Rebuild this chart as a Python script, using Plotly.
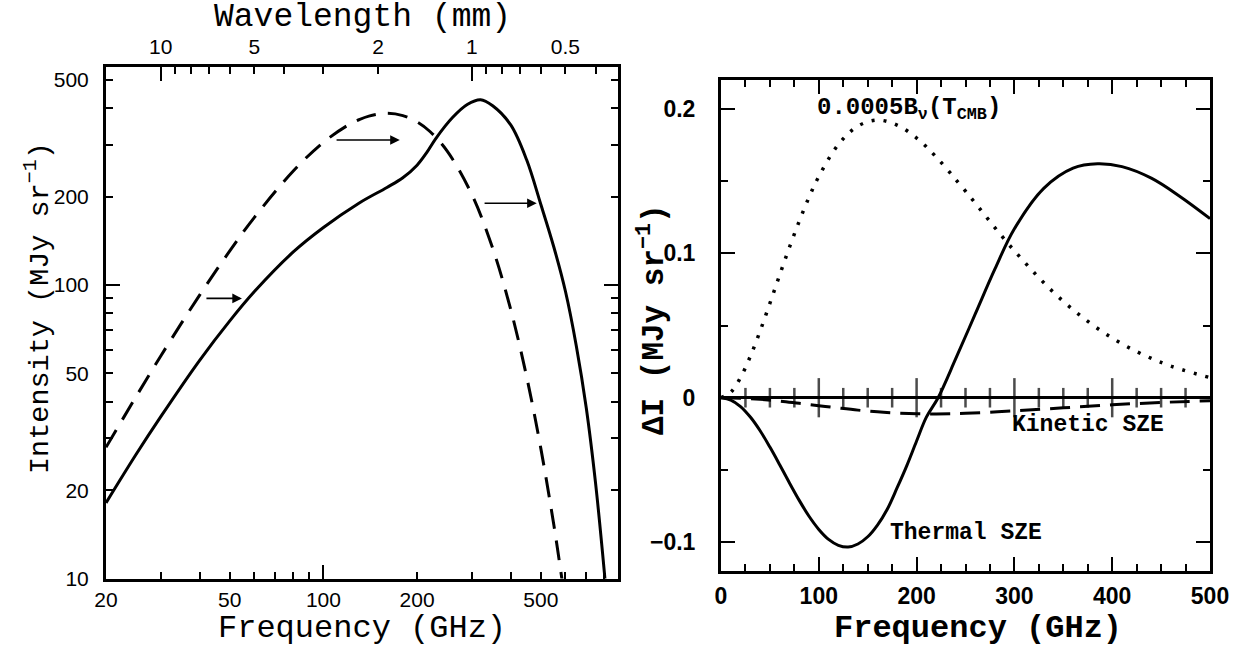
import math
import plotly.graph_objects as go

# ---------------- Left panel data ----------------
cmb_freq = [20, 25, 30, 40, 50, 60, 80, 100, 120, 130, 140, 160, 180, 200, 220,
            250, 300, 350, 400, 450, 500, 550, 575, 600]
cmb_int = [27.98, 41.7, 57.3, 92.4, 130.7, 170.0, 244.5, 306.4, 350.6, 365.6, 376.2,
           384.4, 377.6, 359.5, 333.4, 286.0, 203.3, 133.4, 82.5, 48.7, 27.7, 15.3,
           11.2, 8.2]

sz_freq = [20, 25, 30, 40, 50, 60, 80, 100, 130, 160, 180, 200, 215, 230, 260, 290, 320,
           350, 400, 450, 500, 550, 600, 650, 700, 750, 800, 850]
sz_int = [18.1, 26.5, 35.6, 55.4, 75.5, 95.0, 129.6, 157.0, 190.0, 215.0, 232.0, 256.0,
          283.0, 316.0, 372.0, 412.0, 428.0, 408.0, 351.0, 267.0, 188.0, 135.0, 95.0,
          62.0, 38.0, 21.0, 10.5, 5.0]

arrow_tail_freq = [41.6, 109.0, 326.0]
arrow_head_freq = [54.7, 176.0, 485.0]
arrow_int = [90.0, 312.0, 190.0]

freq_labels = [20, 50, 100, 200, 500]
freq_minor = [30, 40, 60, 70, 80, 90, 300, 400, 600, 700, 800]
freq_long = [100]
int_labels = [10, 20, 50, 100, 200, 500]
int_minor = [30, 40, 60, 70, 80, 90, 300, 400]
int_long = [100]
wl_labels = [10, 5, 2, 1, 0.5]
wl_text = ["10", "5", "2", "1", "0.5"]
wl_minor = [9, 8, 7, 6, 4, 3, 0.9, 0.8, 0.7, 0.6, 0.4]
wl_long = [10, 1]
C_MM_GHZ = 299.792458  # wavelength (mm) <-> frequency (GHz)

# ---------------- Right panel data ----------------
bcmb_freq = [0, 10, 20, 30, 40, 50, 60, 70, 80, 90, 100, 120, 140, 160, 180, 200, 220,
             250, 300, 350, 400, 450, 500]
bcmb_val = [0.0, 0.00383, 0.01399, 0.02865, 0.0462, 0.0654, 0.0850, 0.1042, 0.1222,
            0.1388, 0.1532, 0.1753, 0.1881, 0.1922, 0.1888, 0.1798, 0.1667, 0.1430,
            0.1017, 0.0667, 0.0413, 0.0244, 0.0139]

tsz_freq = [0, 10, 20, 30, 40, 50, 60, 70, 80, 90, 100, 110, 120, 130, 140, 150, 160,
            170, 180, 190, 200, 210, 222, 240, 260, 280, 300, 330, 360, 385, 410, 440,
            470, 500]
tsz_val = [0.0, -0.0016, -0.0061, -0.0134, -0.0229, -0.0342, -0.0464, -0.0590, -0.0711,
           -0.0821, -0.0912, -0.0981, -0.1022, -0.1034, -0.1013, -0.0963, -0.0882,
           -0.0772, -0.0625, -0.0470, -0.0300, -0.0135, 0.0, 0.027, 0.058, 0.089,
           0.117, 0.145, 0.159, 0.162, 0.160, 0.152, 0.139, 0.124]

ksz_freq = [0, 20, 40, 60, 80, 100, 120, 140, 160, 180, 200, 220, 250, 300, 350, 400,
            450, 500]
ksz_val = [0.0, -0.0003, -0.0011, -0.0023, -0.0039, -0.0055, -0.0071, -0.0086, -0.0098,
           -0.0106, -0.0111, -0.0112, -0.0108, -0.0091, -0.0070, -0.0049, -0.0033,
           -0.0021]

r_major = [0, 100, 200, 300, 400, 500]
r_cross = [25, 50, 75, 100, 125, 150, 175, 200, 225, 250, 275, 300, 325, 350, 375,
           400, 425, 450, 475]
r_ylabels = [-0.1, 0, 0.1, 0.2]
r_ytext = ["\u22120.1", "0", "0.1", "0.2"]

# ---------------- Layout geometry ----------------
W, H = 1249, 650
L_dom_x = [106 / W, 618 / W]
L_dom_y = [1 - 578.5 / H, 1 - 67 / H]
R_dom_x = [721 / W, 1210 / W]
R_dom_y = [1 - 571 / H, 1 - 80 / H]
L_xrange = [math.log10(20), math.log10(885)]
L_yrange = [1.0, math.log10(553)]

MONO = "Liberation Mono"
SANS = "Liberation Sans"

fig = go.Figure()

fig.add_trace(go.Scatter(x=cmb_freq, y=cmb_int, mode="lines", xaxis="x", yaxis="y",
                         line=dict(color="black", width=3, dash="20px,12px", shape="spline"),
                         showlegend=False))
fig.add_trace(go.Scatter(x=sz_freq, y=sz_int, mode="lines", xaxis="x", yaxis="y",
                         line=dict(color="black", width=3, shape="spline"),
                         showlegend=False))
# invisible carriers so that the overlaying tick-only axes are drawn
for xa, ya in [("x3", "y"), ("x4", "y"), ("x5", "y"), ("x", "y5")]:
    fig.add_trace(go.Scatter(x=cmb_freq, y=cmb_int, mode="lines", xaxis=xa, yaxis=ya,
                             line=dict(color="rgba(0,0,0,0)", width=0),
                             showlegend=False, hoverinfo="skip"))

fig.add_trace(go.Scatter(x=bcmb_freq, y=bcmb_val, mode="lines", xaxis="x2", yaxis="y2",
                         line=dict(color="black", width=3.5, dash="3px,9px", shape="spline"),
                         showlegend=False))
fig.add_trace(go.Scatter(x=tsz_freq, y=tsz_val, mode="lines", xaxis="x2", yaxis="y2",
                         line=dict(color="black", width=3, shape="spline"),
                         showlegend=False))
fig.add_trace(go.Scatter(x=ksz_freq, y=ksz_val, mode="lines", xaxis="x2", yaxis="y2",
                         line=dict(color="black", width=3, dash="20px,10px", shape="spline"),
                         showlegend=False))
fig.add_trace(go.Scatter(x=r_cross, y=[0] * len(r_cross), mode="markers",
                         xaxis="x2", yaxis="y2",
                         marker=dict(symbol="line-ns",
                                     size=[28 if v % 100 == 0 else 14 for v in r_cross],
                                     color="black",
                                     line=dict(color="black", width=2.5)),
                         showlegend=False, hoverinfo="skip"))

axcommon = dict(showgrid=False, zeroline=False, color="black", ticks="inside",
                tickcolor="black", tickwidth=2, automargin=False)

fig.update_layout(
    width=W, height=H, margin=dict(l=0, r=0, t=0, b=0, autoexpand=False),
    paper_bgcolor="white", plot_bgcolor="white",
    xaxis=dict(**axcommon, type="log", range=L_xrange, domain=L_dom_x, anchor="y",
               tickvals=freq_labels, ticktext=[str(v) for v in freq_labels], ticklen=7,
               minor=dict(tickvals=freq_minor, ticks="inside", ticklen=7, tickwidth=2,
                          tickcolor="black"),
               showline=True, linewidth=3, linecolor="black", mirror=True,
               tickfont=dict(family=SANS, size=21, color="black")),
    xaxis5=dict(showgrid=False, zeroline=False, type="log", range=L_xrange, overlaying="x",
                anchor="y", ticks="inside", tickvals=freq_long, ticklen=14, tickwidth=2,
                tickcolor="black", showticklabels=False, showline=False, automargin=False),
    xaxis3=dict(**axcommon, type="log", range=L_xrange, overlaying="x", side="top",
                anchor="y", tickvals=[C_MM_GHZ / v for v in wl_labels], ticktext=wl_text,
                ticklen=7,
                minor=dict(tickvals=[C_MM_GHZ / v for v in wl_minor], ticks="inside",
                           ticklen=7, tickwidth=2, tickcolor="black"),
                showline=False, ticklabelstandoff=8,
                tickfont=dict(family=SANS, size=21, color="black")),
    xaxis4=dict(showgrid=False, zeroline=False, type="log", range=L_xrange, overlaying="x",
                side="top", anchor="y", ticks="inside",
                tickvals=[C_MM_GHZ / v for v in wl_long], ticklen=14, tickwidth=2,
                tickcolor="black", showticklabels=False, showline=False, automargin=False),
    yaxis=dict(**axcommon, type="log", range=L_yrange, domain=L_dom_y, anchor="x",
               tickvals=int_labels, ticktext=[str(v) for v in int_labels], ticklen=7,
               minor=dict(tickvals=int_minor, ticks="inside", ticklen=7, tickwidth=2,
                          tickcolor="black"),
               showline=True, linewidth=3, linecolor="black", mirror="allticks",
               ticklabelstandoff=10,
               tickfont=dict(family=SANS, size=21, color="black")),
    yaxis5=dict(showgrid=False, zeroline=False, type="log", range=L_yrange, overlaying="y",
                anchor="x", ticks="inside", tickvals=int_long, ticklen=14, tickwidth=2,
                tickcolor="black", showticklabels=False, showline=False, mirror="ticks",
                automargin=False),
    xaxis2=dict(**axcommon, range=[0, 500], domain=R_dom_x, anchor="y2",
                tickvals=r_major, ticktext=[str(v) for v in r_major], ticklen=14,
                minor=dict(dtick=25, tick0=0, ticks="inside", ticklen=7, tickwidth=2,
                           tickcolor="black"),
                showline=True, linewidth=3, linecolor="black", mirror="allticks",
                ticklabelstandoff=2,
                tickfont=dict(family=SANS, size=23, color="black", weight="bold")),
    yaxis2=dict(showgrid=False, color="black", ticks="inside", tickcolor="black",
                tickwidth=2, range=[-0.12, 0.22], domain=R_dom_y, anchor="x2",
                tickvals=r_ylabels, ticktext=r_ytext, ticklen=14, automargin=False,
                minor=dict(dtick=0.05, tick0=0, ticks="inside", ticklen=7, tickwidth=2,
                           tickcolor="black"),
                zeroline=True, zerolinecolor="black", zerolinewidth=3,
                showline=True, linewidth=3, linecolor="black", mirror="allticks",
                ticklabelstandoff=18,
                tickfont=dict(family=SANS, size=23, color="black", weight="bold")),
)


def label(text, x, y, size, family=MONO, angle=0, xref="paper", yref="paper",
          xanchor="center"):
    return dict(text=text, x=x, y=y, xref=xref, yref=yref, xanchor=xanchor,
                yanchor="middle", textangle=angle, showarrow=False,
                font=dict(family=family, size=size, color="black"))


ann = []
# axis titles
ann.append(label("Wavelength (mm)", 362 / W, 1 - 18 / H, 33))
ann.append(label("Frequency (GHz)", 362 / W, 1 - 628 / H, 32))
ann.append(label("Intensity (MJy sr<sup>\u22121</sup>)", 38 / W, 1 - 308 / H, 28.5, angle=-90))
ann.append(label("<b>Frequency (GHz)</b>", 978 / W, 1 - 628.5 / H, 32))
ann.append(label("<b>\u0394I (MJy sr<sup>\u22121</sup>)</b>", 652 / W, 1 - 320 / H, 31,
                 angle=-90))
# curve labels on right panel
ann.append(label("<b>0.0005B<sub>\u03bd</sub>(T<sub>CMB</sub>)</b>", 96, 0.2, 24,
                 xref="x2", yref="y2", xanchor="left"))
ann.append(label("<b>Kinetic SZE</b>", 295, -0.0192, 23, xref="x2", yref="y2",
                 xanchor="left"))
ann.append(label("<b>Thermal SZE</b>", 171, -0.094, 23, xref="x2", yref="y2",
                 xanchor="left"))
# arrows on left panel
for ft, fh, iv in zip(arrow_tail_freq, arrow_head_freq, arrow_int):
    ann.append(dict(x=math.log10(fh), y=math.log10(iv), ax=math.log10(ft), ay=math.log10(iv),
                    xref="x", yref="y", axref="x", ayref="y", text="", showarrow=True,
                    arrowhead=2, arrowsize=1.2, arrowwidth=1.6, arrowcolor="black"))
fig.update_layout(annotations=ann)

fig.write_html("out.html")
